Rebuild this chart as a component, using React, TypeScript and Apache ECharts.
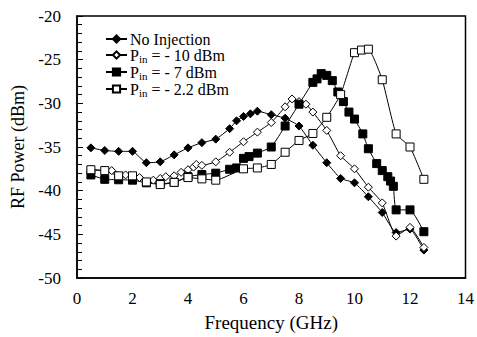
import React, { useEffect, useRef } from "react";
import * as echarts from "echarts";

const noInjection: [number, number][] = [
  [0.5, -35.1], [1, -35.4], [1.5, -35.5], [2, -35.5], [2.5, -36.8], [3, -36.7], [3.5, -35.9],
  [4, -35.1], [4.5, -34.5], [5, -34.1], [5.5, -32.9], [5.75, -32.0], [6, -31.5], [6.25, -31.2],
  [6.5, -30.9], [7, -31.3], [7.5, -31.7], [8, -32.6], [8.5, -34.8], [9, -36.8], [9.5, -38.6],
  [10, -39.1], [10.5, -40.7], [11, -42.5], [11.5, -44.8], [12, -44.4], [12.5, -46.8],
];

const pinMinus10: [number, number][] = [
  [0.5, -37.6], [1, -37.7], [1.25, -37.7], [1.75, -38.2], [2.25, -38.5], [2.75, -38.8], [3, -38.6],
  [3.2, -38.4], [3.5, -38.3], [3.75, -37.9], [4, -37.6], [4.2, -37.3], [4.3, -37.0], [4.5, -37.1],
  [5, -36.7], [5.5, -35.6], [6, -34.4], [6.5, -33.3], [7, -32.2], [7.5, -30.4], [7.75, -29.5],
  [8, -29.8], [8.25, -30.1], [8.5, -31.0], [9, -33.1], [9.5, -36.0], [10, -37.5], [10.5, -39.6],
  [11, -41.4], [11.5, -45.2], [12, -44.2], [12.5, -46.5],
];

const pinMinus7: [number, number][] = [
  [0.5, -38.2], [1, -38.7], [1.5, -38.75], [2, -38.8], [2.5, -39.1], [3, -39.2], [3.5, -39.05],
  [4, -38.4], [4.5, -38.15], [5, -38.0], [5.5, -37.55], [5.75, -37.4], [6, -36.3], [6.2, -36.1],
  [6.5, -35.7], [7, -35.0], [7.5, -32.6], [8, -30.1], [8.5, -27.6], [8.65, -27.2], [8.8, -26.6],
  [9, -26.8], [9.2, -27.4], [9.4, -28.7], [9.6, -29.8], [9.8, -31.0], [10, -31.8], [10.3, -33.5],
  [10.5, -35.2], [10.8, -36.9], [11, -37.7], [11.2, -38.4], [11.3, -38.9], [11.4, -39.5],
  [11.5, -42.2], [12, -42.2], [12.5, -44.7],
];

const pinMinus2_2: [number, number][] = [
  [0.5, -37.6], [1, -37.7], [1.5, -38.3], [2, -38.3], [2.5, -39.0], [3, -39.3], [3.5, -39.05],
  [4, -38.5], [4.5, -38.65], [5, -38.8], [6, -37.5], [6.5, -37.4], [7, -37.0], [7.5, -35.6],
  [8, -34.25], [8.5, -33.45], [9, -31.6], [9.5, -29.0], [10, -24.2], [10.25, -23.9], [10.5, -23.8],
  [11, -27.3], [11.5, -33.5], [12, -35.0], [12.5, -38.7],
];

const seriesNames = ["No Injection", "P_in = - 10 dBm", "P_in = - 7 dBm", "P_in = - 2.2 dBm"];
const xTicks = [0, 2, 4, 6, 8, 10, 12, 14];
const yTicks = [-50, -45, -40, -35, -30, -25, -20];

const FONT = "'Liberation Serif', 'Times New Roman', serif";

export default function App() {
  const ref = useRef<HTMLDivElement>(null);
  useEffect(() => {
    if (!ref.current) return;
    const chart = echarts.init(ref.current, undefined, { renderer: "svg" });
    const mk = (name: string, data: [number, number][], symbol: string, filled: boolean, size: number) => ({
      name,
      type: "line",
      data,
      smooth: 0.15,
      symbol,
      symbolSize: size,
      showSymbol: true,
      lineStyle: { color: "#000", width: 1 },
      itemStyle: { color: filled ? "#000" : "#fff", borderColor: "#000", borderWidth: 1 },
      emphasis: { disabled: true },
      z: 3,
    });
    chart.setOption({
      animation: false,
      backgroundColor: "#fff",
      textStyle: { fontFamily: FONT },
      grid: {
        left: 77, right: 6, top: 16, bottom: 55,
        show: true, borderColor: "#000", borderWidth: 1.5, backgroundColor: "transparent",
      },
      legend: {
        orient: "vertical",
        left: 100,
        top: 26,
        itemWidth: 21,
        itemHeight: 9,
        itemGap: 0,
        data: seriesNames,
        textStyle: {
          fontFamily: FONT,
          fontSize: 16,
          color: "#000",
          padding: [0, 0, 0, -2],
          rich: {
            t: { fontFamily: FONT, fontSize: 16, color: "#000" },
            s: { fontFamily: FONT, fontSize: 11, color: "#000", verticalAlign: "bottom", padding: [7, 0, 0, 0] },
          },
        },
        formatter: (name: string) => {
          if (!name.startsWith("P_in")) return `{t|${name}}`;
          return `{t|P}{s|in}{t|${name.slice(4)}}`;
        },
      },
      xAxis: {
        type: "value",
        min: xTicks[0],
        max: xTicks[xTicks.length - 1],
        interval: 2,
        name: "Frequency (GHz)",
        nameLocation: "middle",
        nameGap: 35,
        nameTextStyle: { fontFamily: FONT, fontSize: 19, color: "#000" },
        axisLine: { show: true, lineStyle: { color: "#000", width: 1.5 } },
        axisTick: { show: false },
        axisLabel: { fontFamily: FONT, fontSize: 17, color: "#000", margin: 12 },
        splitLine: { show: false },
      },
      yAxis: {
        type: "value",
        min: yTicks[0],
        max: yTicks[yTicks.length - 1],
        interval: 5,
        name: "RF Power (dBm)",
        nameLocation: "middle",
        nameGap: 46,
        nameTextStyle: { fontFamily: FONT, fontSize: 18, color: "#000" },
        axisLine: { show: true, lineStyle: { color: "#000", width: 1.5 } },
        axisTick: { show: true, inside: true, length: 6, lineStyle: { color: "#000", width: 1 } },
        minorTick: { show: true, splitNumber: 5, length: 5, lineStyle: { color: "#000", width: 1 } },
        axisLabel: { fontFamily: FONT, fontSize: 17, color: "#000", margin: 16 },
        splitLine: { show: false },
      },
      series: [
        mk(seriesNames[0], noInjection, "diamond", true, 8),
        mk(seriesNames[1], pinMinus10, "diamond", false, 8),
        mk(seriesNames[2], pinMinus7, "rect", true, 8),
        mk(seriesNames[3], pinMinus2_2, "rect", false, 8),
      ],
    });
    return () => chart.dispose();
  }, []);
  return (
    <div
      ref={ref}
      style={{ position: "absolute", left: 0, top: 0, width: 477, height: 337 }}
    />
  );
}
